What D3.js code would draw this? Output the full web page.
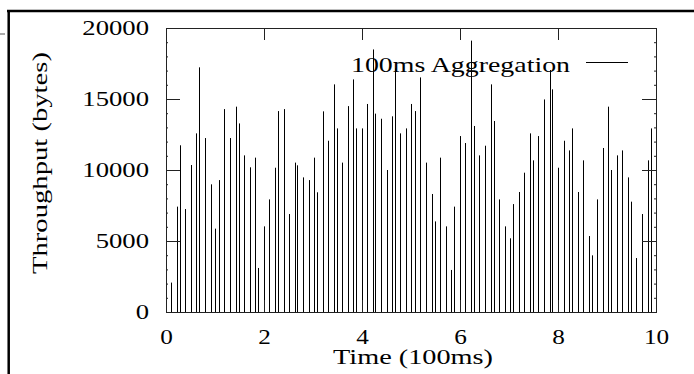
<!DOCTYPE html>
<html>
<head>
<meta charset="utf-8">
<script src="https://cdn.jsdelivr.net/npm/d3@7"></script>
<style>
  body { margin: 0; background: #fff; }
  svg { display: block; }
</style>
</head>
<body>
<svg id="chart" width="694" height="374"></svg>
<script>
// time (100ms units) of each aggregated sample
const times = [0.10,0.22,0.28,0.39,0.50,0.62,0.68,0.79,0.91,1.01,
  1.08,1.19,1.31,1.42,1.48,1.59,1.71,1.82,1.88,1.99,
  2.11,2.22,2.28,2.40,2.51,2.63,2.68,2.80,2.91,3.03,
  3.08,3.20,3.31,3.42,3.48,3.59,3.71,3.82,3.88,3.99,
  4.10,4.22,4.27,4.39,4.50,4.62,4.67,4.78,4.90,5.01,
  5.08,5.19,5.31,5.42,5.48,5.59,5.71,5.82,5.88,5.99,
  6.11,6.22,6.28,6.39,6.51,6.63,6.69,6.80,6.92,7.03,
  7.08,7.20,7.31,7.43,7.48,7.60,7.71,7.83,7.88,8.00,
  8.12,8.22,8.29,8.40,8.52,8.63,8.69,8.80,8.91,9.03,
  9.09,9.20,9.31,9.43,9.48,9.60,9.71,9.83,9.89]

// throughput (bytes) per 100ms bucket
const throughput = [2070,7420,11740,7250,10350,12580,17230,12250,8990,5870,
  9290,14290,12250,14460,13280,11030,10190,10870,3100,6030,
  7930,10160,14150,14290,6900,10520,10330,9480,9290,10870,
  8430,14130,12060,16030,12930,10520,14500,16380,12930,12930,
  14650,18490,13970,13610,10000,13780,17160,12580,12930,14650,
  14150,16520,10520,8310,6380,10870,6030,2960,7420,12390,
  11900,19110,13100,11030,11710,16030,13450,7930,6030,5190,
  7600,8450,9810,12580,10680,12390,14970,17040,15680,10160,
  12060,11380,12930,8450,10680,5350,3990,7930,11550,14460,
  10000,11030,11380,9480,7770,3800,6900,10680,12930]

const xTicks = [0, 2, 4, 6, 8, 10]
const yTicks = [0, 5000, 10000, 15000, 20000]
const yMinorTicks = d3.range(0, 20001, 1000)

const seriesName = "100ms Aggregation"
const xTitle = "Time (100ms)"
const yTitle = "Throughput (bytes)"

const FONT = '"Liberation Serif", "Times New Roman", serif'
const margin = {top: 28, right: 38, bottom: 62, left: 166}
const width = 490, height = 284

const svg = d3.select("#chart")

// outer page frame (figure box cut off at the right/bottom)
svg.append("line").attr("x1", 7).attr("x2", 694).attr("y1", 11).attr("y2", 11)
  .attr("stroke", "#000").attr("stroke-width", 2.5)
svg.append("line").attr("x1", 8.7).attr("x2", 8.7).attr("y1", 10).attr("y2", 374)
  .attr("stroke", "#000").attr("stroke-width", 2.5)
svg.append("line").attr("x1", 0).attr("x2", 5).attr("y1", 34).attr("y2", 34)
  .attr("stroke", "#555").attr("stroke-width", 1)

const xscale = d3.scaleLinear().domain([0, 10]).range([0, width])
const yscale = d3.scaleLinear().domain([0, 20000]).range([height, 0])

const g = svg.append("g").attr("transform", `translate(${margin.left},${margin.top})`)

// impulses
g.selectAll("line.impulse")
  .data(times.map((t, i) => ({t, v: throughput[i]})))
  .join("line")
  .attr("class", "impulse")
  .attr("x1", d => Math.round(xscale(d.t)) + 0.5)
  .attr("x2", d => Math.round(xscale(d.t)) + 0.5)
  .attr("y1", yscale(0))
  .attr("y2", d => yscale(d.v))
  .attr("stroke", "#000")
  .attr("stroke-width", 1)

// the original glyphs are a bit wider than the font, stretch them
function stretch(sel, k) {
  sel.each(function() {
    const len = this.getComputedTextLength()
    d3.select(this).attr("textLength", len * k).attr("lengthAdjust", "spacingAndGlyphs")
  })
}

function styleAxis(sel) {
  sel.attr("font-family", null).attr("font-size", null)
  sel.select(".domain").remove()
  sel.selectAll(".tick line").attr("stroke", "#222")
  sel.selectAll("text").style("font-family", FONT).attr("font-size", 21).attr("fill", "#000")
}

// minor ticks, left & right
g.append("g").call(d3.axisLeft(yscale).tickValues(yMinorTicks).tickSize(-2).tickFormat(""))
  .call(styleAxis)
g.append("g").attr("transform", `translate(${width},0)`)
  .call(d3.axisRight(yscale).tickValues(yMinorTicks).tickSize(-2).tickFormat(""))
  .call(styleAxis)

// left axis with labels
const yAxis = g.append("g")
  .call(d3.axisLeft(yscale).tickValues(yTicks).tickFormat(d3.format("d"))
    .tickSize(-14).tickPadding(17).tickSizeOuter(0))
  .call(styleAxis)
yAxis.selectAll("text").attr("dy", "0.33em").call(stretch, 1.27)

g.append("g").attr("transform", `translate(${width},0)`)
  .call(d3.axisRight(yscale).tickValues(yTicks).tickSize(-14).tickFormat("").tickSizeOuter(0))
  .call(styleAxis)

// bottom axis with labels
const xAxis = g.append("g").attr("transform", `translate(0,${height})`)
  .call(d3.axisBottom(xscale).tickValues(xTicks).tickFormat(d3.format("d"))
    .tickSize(-12).tickPadding(17).tickSizeOuter(0))
  .call(styleAxis)
xAxis.selectAll("text").attr("dy", "0.71em").attr("y", 17).call(stretch, 1.2)

g.append("g")
  .call(d3.axisTop(xscale).tickValues(xTicks).tickSize(-12).tickFormat("").tickSizeOuter(0))
  .call(styleAxis)

// plot border
g.append("rect").attr("x", 0.5).attr("y", 0.5).attr("width", width).attr("height", height)
  .attr("fill", "none").attr("stroke", "#222").attr("stroke-width", 1)

// axis titles
svg.append("text")
  .attr("x", 413).attr("y", 364)
  .attr("text-anchor", "middle").attr("font-size", 21).style("font-family", FONT)
  .attr("textLength", 160).attr("lengthAdjust", "spacingAndGlyphs")
  .text(xTitle)

svg.append("text")
  .attr("transform", "translate(47,163) rotate(-90)")
  .attr("text-anchor", "middle").attr("font-size", 21).style("font-family", FONT)
  .attr("textLength", 222).attr("lengthAdjust", "spacingAndGlyphs")
  .text(yTitle)

// legend
svg.append("text")
  .attr("x", 351).attr("y", 72).attr("font-size", 21).style("font-family", FONT)
  .attr("textLength", 219).attr("lengthAdjust", "spacingAndGlyphs")
  .text(seriesName)
svg.append("line").attr("x1", 586).attr("x2", 628).attr("y1", 62.5).attr("y2", 62.5)
  .attr("stroke", "#000").attr("stroke-width", 1)
</script>
</body>
</html>
